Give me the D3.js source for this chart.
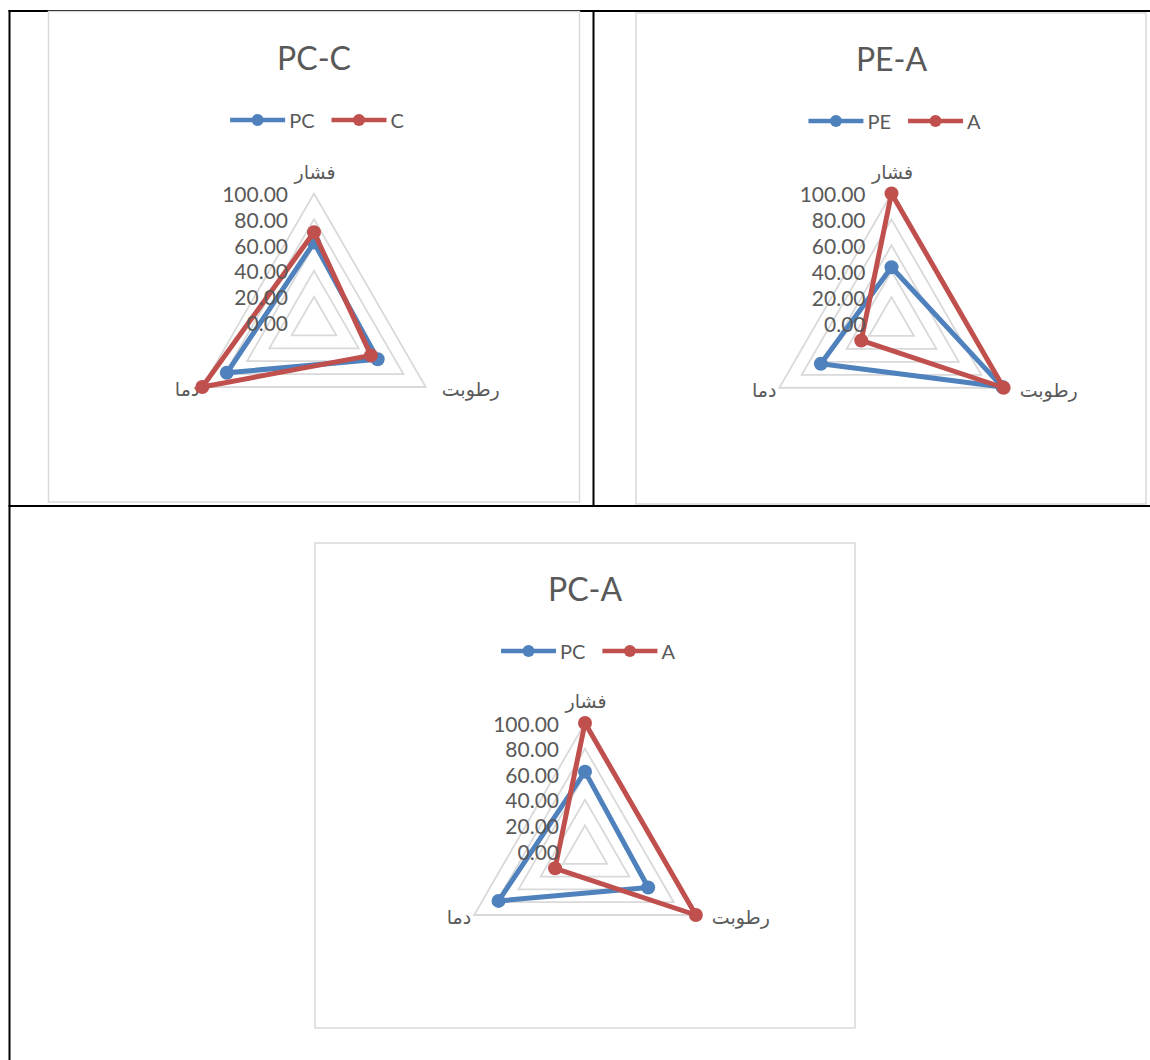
<!DOCTYPE html>
<html>
<head>
<meta charset="utf-8">
<script src="https://cdnjs.cloudflare.com/ajax/libs/d3/7.8.5/d3.min.js"></script>
<style>
  html, body { margin: 0; padding: 0; background: #ffffff; }
  svg { display: block; }
</style>
</head>
<body>
<svg id="chart" width="1150" height="1060"></svg>
<script>
// ---------------- DATA ----------------
const categories = ["فشار", "رطوبت", "دما"];
const tickValues = [0, 20, 40, 60, 80, 100];
const chartTitles = ["PC-C", "PE-A", "PC-A"];
const pcValues = [62, 57, 78];
const cValues  = [70, 51, 100];
const peValues = [43, 99, 63];
const aValues  = [100, 100, 27];
const chartSeries = [["PC", "C"], ["PE", "A"], ["PC", "A"]];

// --------------- SETUP ----------------
const valuesByName = { PC: pcValues, C: cValues, PE: peValues, A: aValues };
const seriesColors = ["#4f81bd", "#c0504d"];

const svg = d3.select("#chart");
svg.append("rect").attr("width", 1150).attr("height", 1060).attr("fill", "#fff");

const textColor = "#595959";
const gridColor = "#d9d9d9";
const latin = "Lato, 'Open Sans', sans-serif";
const arabic = "'DejaVu Sans', 'Noto Sans', sans-serif";

// table lines
const table = svg.append("g").attr("stroke", "#000").attr("stroke-width", 2).attr("fill", "none");
table.append("line").attr("x1", 8.5).attr("x2", 1150).attr("y1", 11).attr("y2", 11);
table.append("line").attr("x1", 9.5).attr("x2", 9.5).attr("y1", 10).attr("y2", 1060);
table.append("line").attr("x1", 593.5).attr("x2", 593.5).attr("y1", 10).attr("y2", 506);
table.append("line").attr("x1", 8.5).attr("x2", 1150).attr("y1", 506).attr("y2", 506);

// chart layouts (frame, title y, legend y, radar center, radius)
const layouts = [
  { fx: 48.5, fy: 11.5, fw: 531, fh: 490.5, titleY: 57, legendY: 120, cx: 314, cy: 322.5, r: 129 },
  { fx: 636, fy: 13, fw: 510, fh: 491, titleY: 58, legendY: 121, cx: 891.5, cy: 323, r: 129.5 },
  { fx: 315, fy: 543, fw: 540, fh: 485, titleY: 588, legendY: 651, cx: 585, cy: 851, r: 128 }
];

const angleScale = d3.scaleLinear().domain([0, categories.length]).range([0, 2 * Math.PI]);
const fmt = d3.format(".2f");

layouts.forEach((L, ci) => {
  const g = svg.append("g");
  // frame
  g.append("rect")
    .attr("x", L.fx).attr("y", L.fy).attr("width", L.fw).attr("height", L.fh)
    .attr("fill", "#fff").attr("stroke", gridColor).attr("stroke-width", 1.5);

  // title
  g.append("text")
    .attr("x", L.cx).attr("y", L.titleY)
    .attr("text-anchor", "middle").attr("dominant-baseline", "central")
    .attr("font-family", latin).attr("font-size", 32).attr("fill", textColor)
    .text(chartTitles[ci]);

  const rScale = d3.scaleLinear().domain([0, 100]).range([0, L.r]);
  const radar = g.append("g").attr("transform", `translate(${L.cx},${L.cy})`);

  // grid rings
  const ringLine = d3.lineRadial()
    .angle((d, i) => angleScale(i))
    .radius(d => d)
    .curve(d3.curveLinearClosed);
  tickValues.filter(t => t > 0).forEach(t => {
    radar.append("path")
      .attr("d", ringLine(categories.map(() => rScale(t))))
      .attr("fill", "none").attr("stroke", gridColor).attr("stroke-width", 1.8);
  });

  // category labels
  categories.forEach((cat, i) => {
    const a = angleScale(i);
    const R = rScale(100);
    const px = R * Math.sin(a), py = -R * Math.cos(a);
    let tx = px, ty = py, anchor = "middle";
    if (i === 0) { tx = px + 1; ty = py - 22; }
    else if (i === 1) { tx = px + 16; ty = py + 2; anchor = "start"; }
    else { tx = px - 3; ty = py + 2; anchor = "end"; }
    radar.append("text")
      .attr("x", tx).attr("y", ty)
      .attr("text-anchor", anchor).attr("dominant-baseline", "central")
      .attr("font-family", arabic).attr("font-size", 19).attr("fill", textColor)
      .text(cat);
  });

  // series
  const names = chartSeries[ci];
  const seriesLine = d3.lineRadial()
    .angle((d, i) => angleScale(i))
    .radius(d => rScale(d))
    .curve(d3.curveLinearClosed);
  names.forEach((name, si) => {
    const vals = valuesByName[name];
    const col = seriesColors[si];
    const sg = radar.append("g");
    sg.append("path")
      .attr("d", seriesLine(vals))
      .attr("fill", "none").attr("stroke", col).attr("stroke-width", 5)
      .attr("stroke-linejoin", "round");
    sg.selectAll("circle").data(vals).join("circle")
      .attr("cx", (d, i) => rScale(d) * Math.sin(angleScale(i)))
      .attr("cy", (d, i) => -rScale(d) * Math.cos(angleScale(i)))
      .attr("r", 7).attr("fill", col);
  });

  // tick labels
  tickValues.forEach(t => {
    radar.append("text")
      .attr("x", -26).attr("y", -rScale(t))
      .attr("text-anchor", "end").attr("dominant-baseline", "central")
      .attr("font-family", latin).attr("font-size", 21).attr("fill", textColor)
      .text(fmt(t));
  });

  // legend
  const lg = g.append("g");
  let x = 0;
  names.forEach((name, si) => {
    const col = seriesColors[si];
    const ig = lg.append("g");
    ig.append("line").attr("x1", x).attr("x2", x + 55).attr("y1", 0).attr("y2", 0)
      .attr("stroke", col).attr("stroke-width", 4.5);
    ig.append("circle").attr("cx", x + 27.5).attr("cy", 0).attr("r", 6).attr("fill", col);
    const t = ig.append("text").attr("x", x + 59).attr("y", 0)
      .attr("dominant-baseline", "central")
      .attr("font-family", latin).attr("font-size", 20).attr("fill", textColor)
      .text(name);
    const w = t.node().getComputedTextLength();
    x += 59 + w + (si < names.length - 1 ? 17 : 0);
  });
  lg.attr("transform", `translate(${L.cx + 3 - x / 2},${L.legendY})`);
});
</script>
</body>
</html>
